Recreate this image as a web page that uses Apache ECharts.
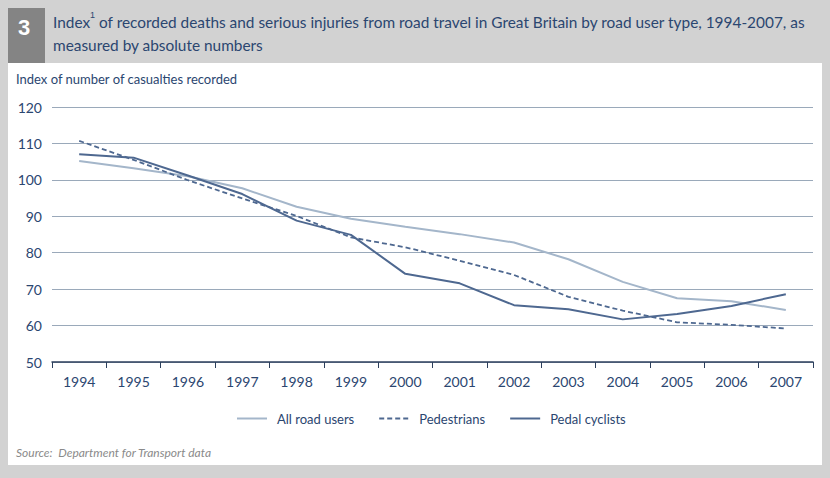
<!DOCTYPE html>
<html>
<head>
<meta charset="utf-8">
<script src="https://cdn.jsdelivr.net/npm/echarts@6/dist/echarts.min.js"></script>
<style>
  html, body { margin: 0; padding: 0; background: #d2d2d2; }
  #chart { width: 830px; height: 478px; }
</style>
</head>
<body>
<div id="chart"></div>
<script>
var years = ['1994', '1995', '1996', '1997', '1998', '1999', '2000', '2001', '2002', '2003', '2004', '2005', '2006', '2007'];
var allRoadUsers = [105.2, 103.2, 101.0, 97.7, 92.6, 89.3, 87.1, 85.1, 82.8, 78.2, 72.0, 67.5, 66.7, 64.3];
var pedestrians = [110.7, 105.5, 99.9, 94.9, 90.1, 84.2, 81.5, 77.8, 73.9, 67.9, 64.1, 60.9, 60.2, 59.2];
var pedalCyclists = [107.0, 106.1, 101.2, 96.1, 88.8, 84.9, 74.2, 71.6, 65.6, 64.5, 61.7, 63.2, 65.4, 68.6];

var navy = '#2b4670';
var light = '#a4b6ca';
var dark = '#4e6890';
var font = 'Lato';

var chart = echarts.init(document.getElementById('chart'), null, { renderer: 'svg' });
chart.setOption({
  animation: false,
  backgroundColor: '#d2d2d2',
  textStyle: { fontFamily: font },
  graphic: [
    // white panel
    { type: 'rect', shape: { x: 8, y: 63, width: 814, height: 402 }, style: { fill: '#ffffff' }, z: -10 },
    // number box
    { type: 'rect', shape: { x: 8, y: 8, width: 37, height: 55 }, style: { fill: '#848484' }, z: -5 },
    { type: 'text', left: 18, top: 16, style: { text: '3', fill: '#ffffff', font: 'bold 22px "Liberation Sans"' } },
    { type: 'text', left: 53, top: 10, style: {
        text: 'Index{sup|1} of recorded deaths and serious injuries from road travel in Great Britain by road user type, 1994-2007, as\nmeasured by absolute numbers',
        fill: navy, font: '15.4px "' + font + '"', lineHeight: 23,
        rich: { sup: { fontSize: 9, verticalAlign: 'top', fill: navy, padding: [0, 0, 6, 0] } } } },
    { type: 'text', left: 16, top: 72, style: { text: 'Index of number of casualties recorded', fill: navy, font: '13px "' + font + '"' } },
    { type: 'text', left: 16, top: 446, style: { text: 'Source:  Department for Transport data', fill: '#8a8a8a', font: 'italic 12px "' + font + '"' } }
  ],
  grid: { left: 52, right: 17, top: 107, bottom: 116 },
  legend: {
    data: ['All road users', 'Pedestrians', 'Pedal cyclists'],
    left: 231, top: 407,
    itemWidth: 30, itemHeight: 14, itemGap: 24,
    itemStyle: { opacity: 0 },
    textStyle: { color: navy, fontSize: 13, fontFamily: font, padding: [0, 0, 0, 5] }
  },
  xAxis: {
    type: 'category', data: years, boundaryGap: true,
    axisLine: { lineStyle: { color: '#2c3f5c', width: 1.5 } },
    axisTick: { show: true, length: 6, lineStyle: { color: '#2c3f5c' } },
    axisLabel: { color: navy, fontSize: 14, margin: 12, fontFamily: font },
    splitLine: { show: false }
  },
  yAxis: {
    type: 'value', min: 50, max: 120, interval: 10,
    axisLine: { show: false }, axisTick: { show: false },
    axisLabel: { color: navy, fontSize: 14, margin: 10, fontFamily: font },
    splitLine: { lineStyle: { color: '#9aa9ba', width: 1 } }
  },
  series: [
    { name: 'All road users', type: 'line', data: allRoadUsers, symbol: 'none',
      itemStyle: { color: light }, lineStyle: { color: light, width: 2 } },
    { name: 'Pedestrians', type: 'line', data: pedestrians, symbol: 'none',
      itemStyle: { color: dark }, lineStyle: { color: dark, width: 1.8, type: [5, 3] } },
    { name: 'Pedal cyclists', type: 'line', data: pedalCyclists, symbol: 'none',
      itemStyle: { color: dark }, lineStyle: { color: dark, width: 2 } }
  ]
});
</script>
</body>
</html>
